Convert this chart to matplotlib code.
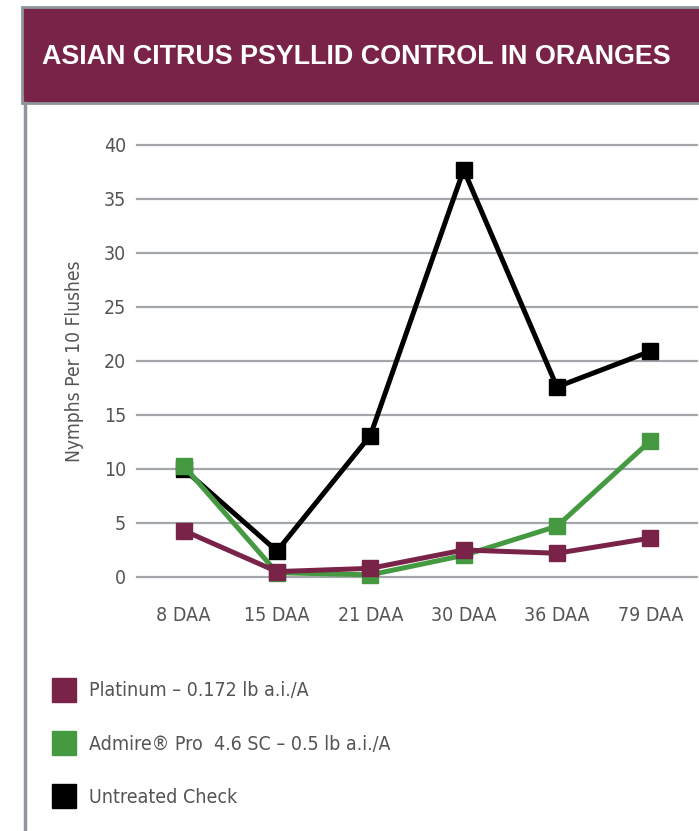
import matplotlib
matplotlib.use("Agg")
import matplotlib.pyplot as plt
from matplotlib.patches import Rectangle
from matplotlib.lines import Line2D
from matplotlib import font_manager

# data
categories = ["8 DAA", "15 DAA", "21 DAA", "30 DAA", "36 DAA", "79 DAA"]
platinum = [4.3, 0.5, 0.8, 2.5, 2.2, 3.6]
admire = [10.3, 0.4, 0.2, 2.0, 4.7, 12.6]
untreated = [10.0, 2.4, 13.1, 37.7, 17.6, 20.9]
series_labels = ["Platinum \u2013 0.172 lb a.i./A",
                 "Admire\u00ae Pro  4.6 SC \u2013 0.5 lb a.i./A",
                 "Untreated Check"]
yticks = [0, 5, 10, 15, 20, 25, 30, 35, 40]

maroon = "#7A2349"
green = "#459A41"
black = "#000000"
grid_col = "#A3A7AB"
text_col = "#555555"

names = {f.name for f in font_manager.fontManager.ttflist}
if "Liberation Sans Narrow" in names:
    narrow = dict(family=["Liberation Sans Narrow", "DejaVu Sans"])
else:
    narrow = dict(family=["DejaVu Sans"], stretch="condensed")

W, H = 699, 831
fig = plt.figure(figsize=(W / 100, H / 100), dpi=100)

# title band and frame
fig.patches.append(Rectangle((22 / W, 1 - 103 / H), 1, 96 / H, transform=fig.transFigure,
                             facecolor=maroon, edgecolor="#8E969C", linewidth=2, zorder=0))
fig.add_artist(Line2D([25 / W, 25 / W], [0, 1 - 103 / H], transform=fig.transFigure,
                      color="#8E969C", linewidth=2.5))
fig.text(42 / W, 1 - 57 / H, "ASIAN CITRUS PSYLLID CONTROL IN ORANGES", color="white",
         fontsize=19.4, fontweight="bold", family=["Liberation Sans", "DejaVu Sans"],
         va="center", ha="left")

ax = fig.add_axes([137 / W, 1 - 577 / H, 560 / W, 432 / H])
x = range(len(categories))
for vals, col in [(untreated, black), (admire, green), (platinum, maroon)]:
    ax.plot(x, vals, color=col, linewidth=3.6, marker="s", markersize=11,
            clip_on=False, zorder=3)

ax.set_xlim(-0.5, len(categories) - 0.5)
ax.set_ylim(0, 40)
ax.set_yticks(yticks)
ax.set_xticks(list(x))
ax.set_xticklabels(categories)
ax.grid(axis="y", color=grid_col, linewidth=1.6)
for gl in ax.get_ygridlines():
    gl.set_clip_on(False)
ax.set_axisbelow(True)
for s in ax.spines.values():
    s.set_visible(False)
ax.tick_params(axis="both", length=0, labelsize=14, labelcolor=text_col)
ax.tick_params(axis="y", pad=8)
ax.tick_params(axis="x", pad=21)
for lab in ax.get_xticklabels() + ax.get_yticklabels():
    lab.set_fontproperties(font_manager.FontProperties(size=14, **narrow))
ax.set_ylabel("Nymphs Per 10 Flushes", fontsize=13.8, color=text_col, labelpad=14, **narrow)

handles = [Line2D([], [], linestyle="none", marker="s", markersize=17, color=c)
           for c in (maroon, green, black)]
leg = fig.legend(handles, series_labels, loc="upper left", bbox_to_anchor=(27 / W, 1 - 664 / H),
                 frameon=False, handletextpad=0.3, labelspacing=1.75,
                 prop=font_manager.FontProperties(size=14, **narrow))
for t in leg.get_texts():
    t.set_color(text_col)

fig.savefig("out.png", dpi=100)
